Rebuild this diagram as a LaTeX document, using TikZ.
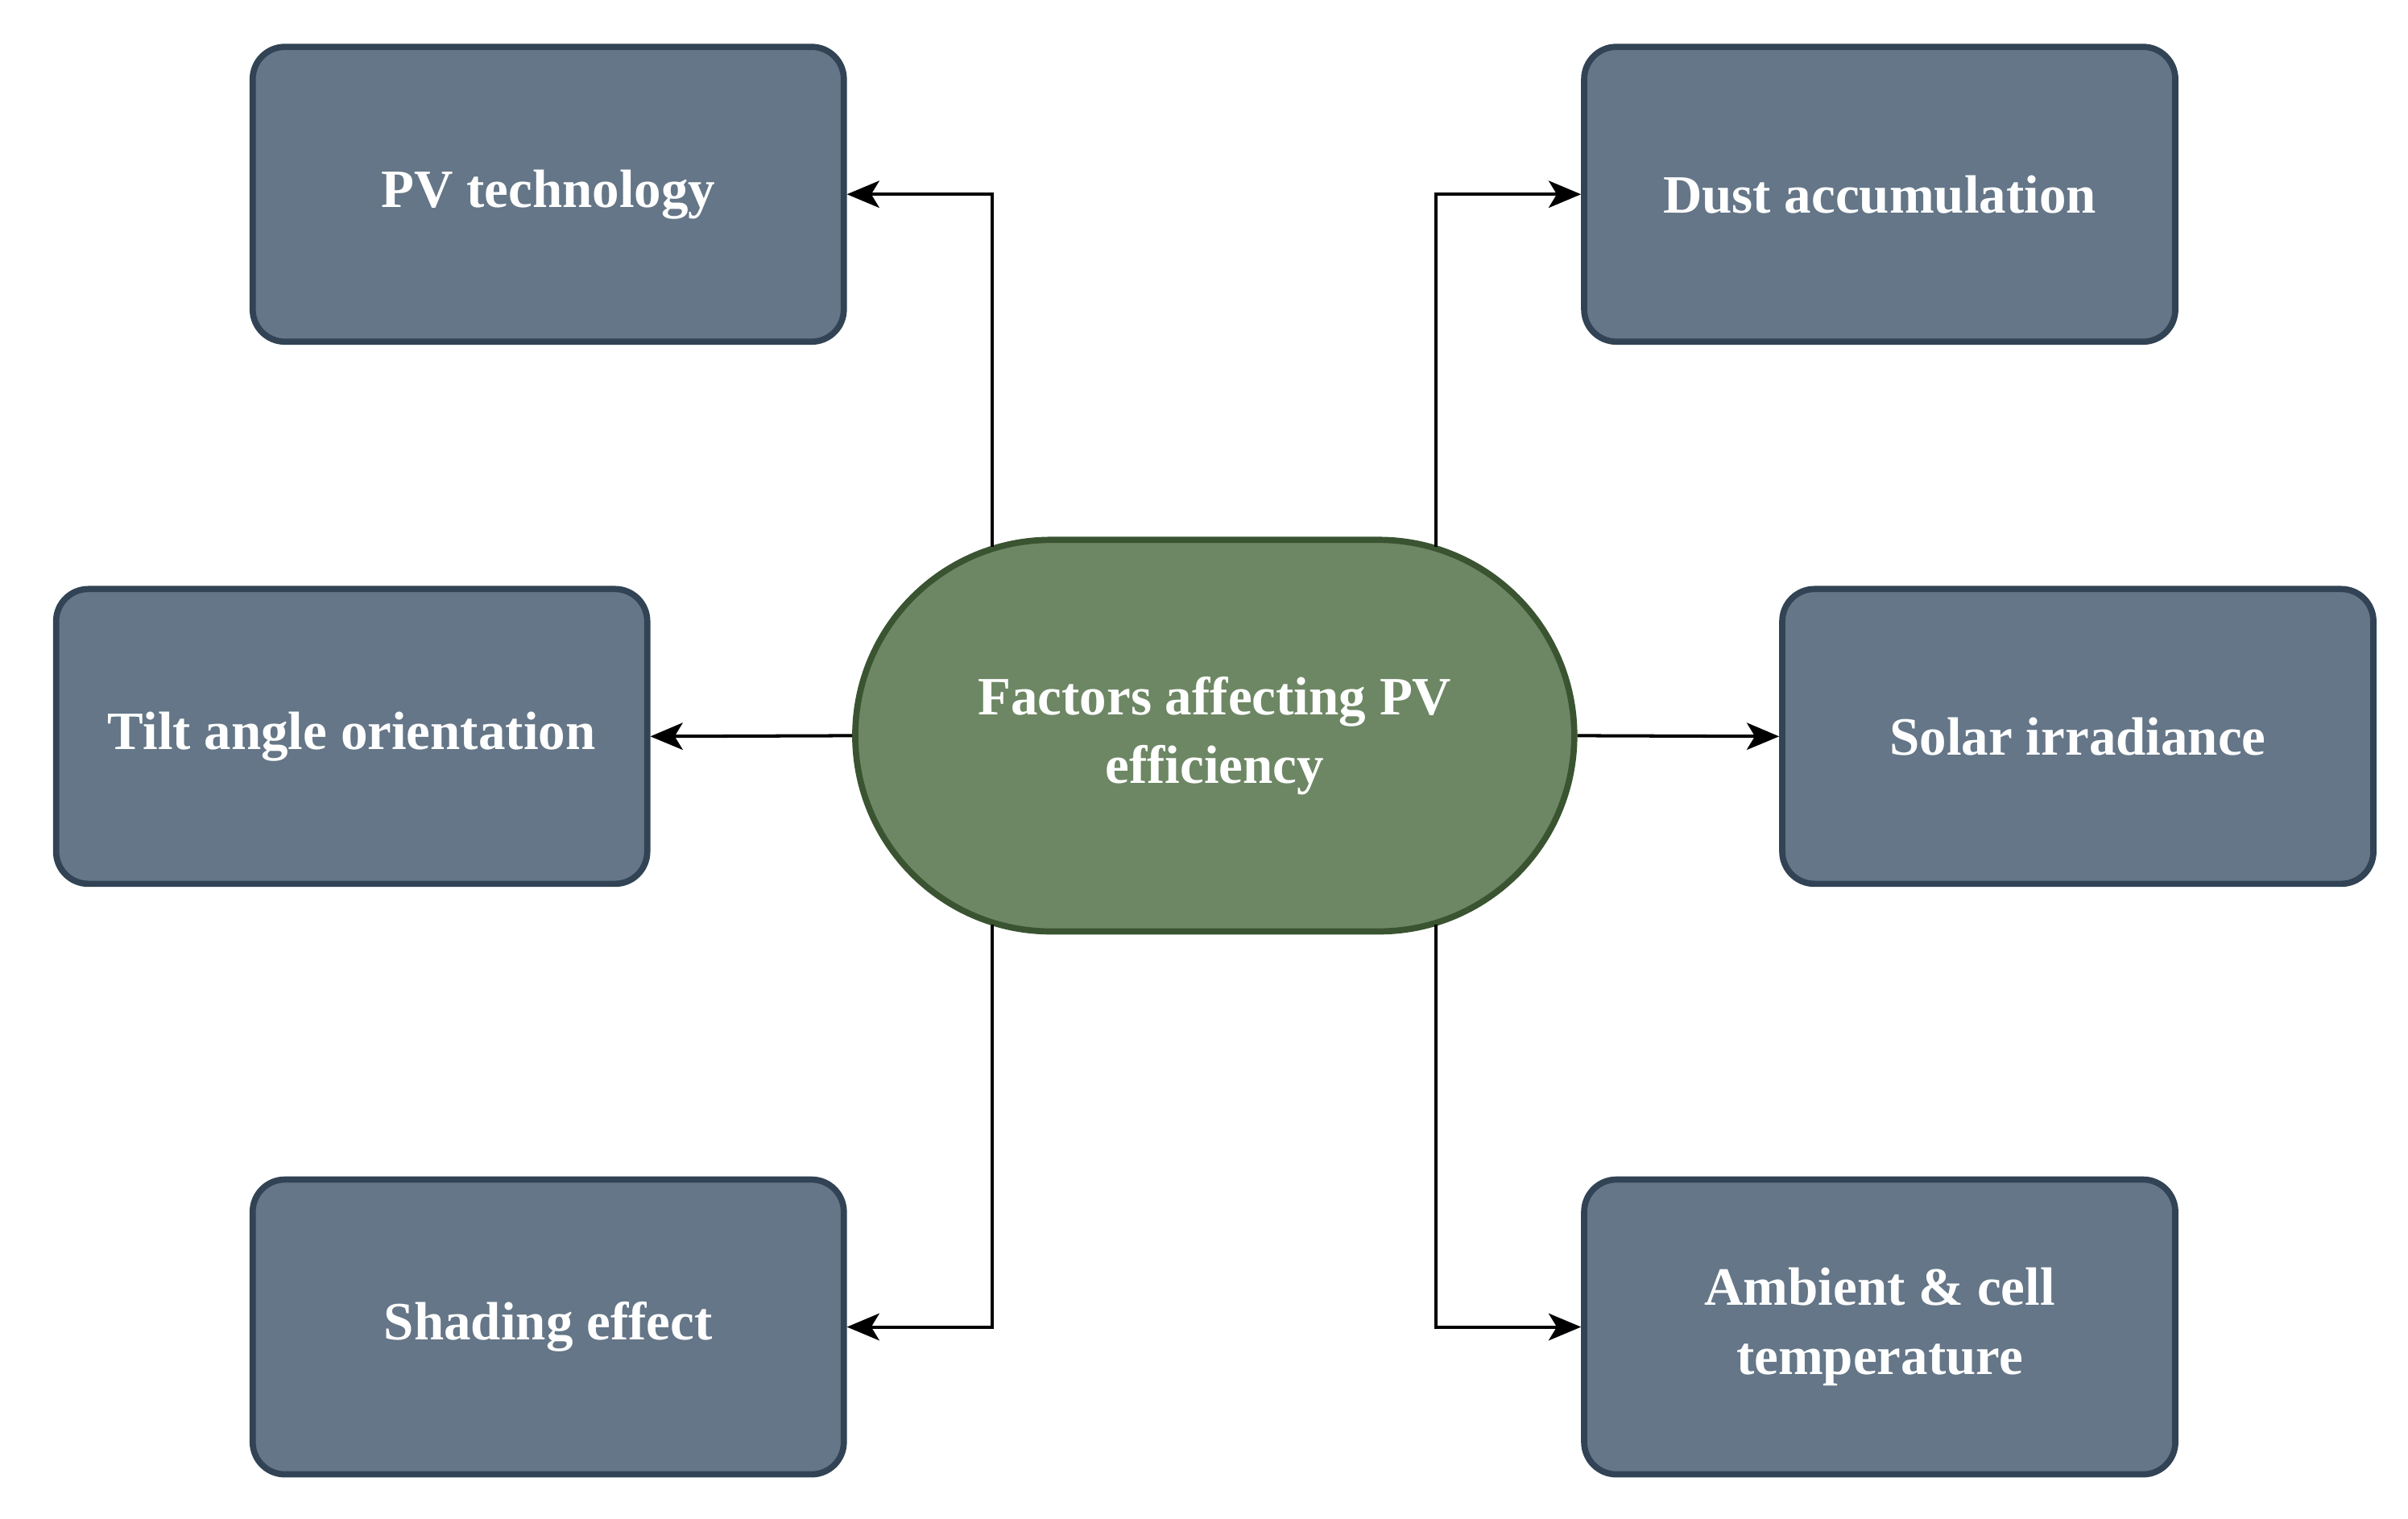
\documentclass[tikz,border=0pt]{standalone}
\usepackage{fontspec}
\setmainfont{Liberation Serif}
\usetikzlibrary{shapes.misc,arrows.meta}
\definecolor{bfill}{HTML}{647687}
\definecolor{bdraw}{HTML}{314354}
\definecolor{cfill}{HTML}{6D8764}
\definecolor{cdraw}{HTML}{3A5431}
\begin{document}
\begin{tikzpicture}[x=0.02cm,y=-0.02cm,
  box/.style={draw=bdraw,fill=bfill,line width=2.3pt,rounded corners=0.42cm,minimum width=7.7cm,minimum height=3.84cm,text=white,font=\fontsize{20}{25.5}\selectfont\bfseries,align=center,inner sep=2pt},
  ctr/.style={draw=cdraw,fill=cfill,line width=2.3pt,rounded rectangle,minimum width=9.6cm,minimum height=5.1cm,text=white,font=\fontsize{20}{25.5}\selectfont\bfseries,align=center},
  arr/.style={draw=black,line width=1.2pt,-{Stealth[length=12pt,width=10pt,inset=3pt]}}]
\useasboundingbox[fill=white] (0,0) rectangle (1568,989);
\node[ctr] (c) at (791,479) {Factors affecting PV\\efficiency};
\node[box] (pv) at (357,126.5) {PV technology};
\node[box] (du) at (1224,126.5) {Dust accumulation};
\node[box] (ti) at (229,479.5) {Tilt angle orientation};
\node[box] (so) at (1353,479.5) {Solar irradiance};
\node[box] (sh) at (357,864) {Shading effect};
\node[box] (am) at (1224,864) {Ambient \& cell\\temperature};
\coordinate (a1) at (646,356); \coordinate (a2) at (935,356);
\coordinate (b1) at (646,602); \coordinate (b2) at (935,602);
\draw[arr] (a1) |- (pv.east);
\draw[arr] (a2) |- (du.west);
\draw[arr] (b1) |- (sh.east);
\draw[arr] (b2) |- (am.west);
\draw[arr] (c.west) -- (ti.east);
\draw[arr] (c.east) -- (so.west);
\end{tikzpicture}
\end{document}
